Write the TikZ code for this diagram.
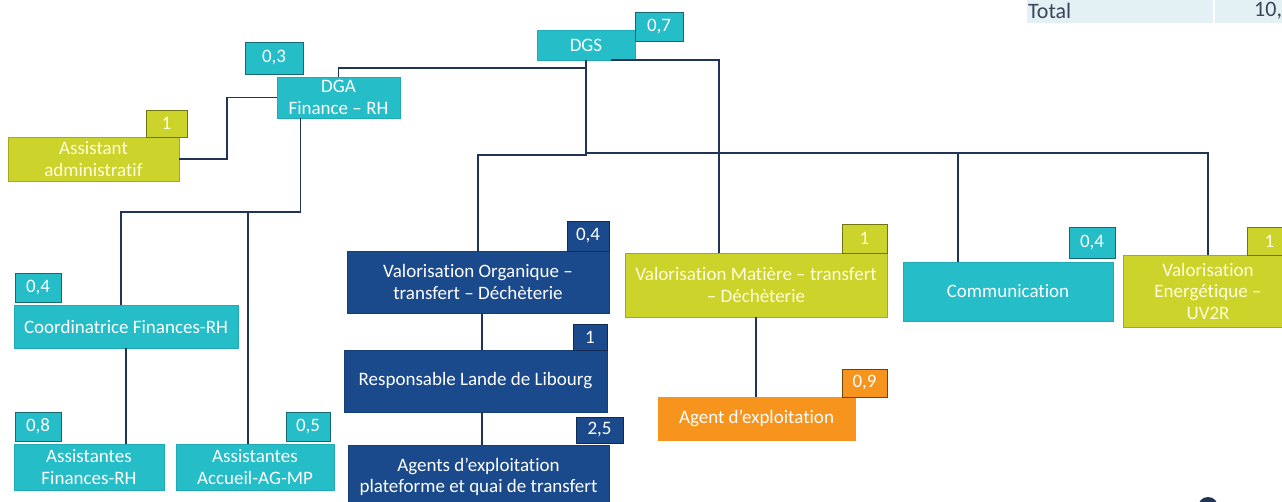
\documentclass[tikz,border=0pt]{standalone}
\usepackage{fontspec}
\setmainfont{Carlito}[Ligatures=NoCommon]
\usepackage{tikz}
\usetikzlibrary{positioning}

\definecolor{cyanfill}{RGB}{36,189,200}
\definecolor{limefill}{RGB}{204,211,42}
\definecolor{navyfill}{RGB}{26,73,140}
\definecolor{orangefill}{RGB}{247,148,30}
\definecolor{linkcol}{RGB}{34,52,85}
\definecolor{totalbg}{RGB}{228,241,244}
\definecolor{totaltext}{RGB}{55,70,90}

\begin{document}
\begin{tikzpicture}[x=1pt,y=-1pt,
  box/.style={rectangle,inner sep=0pt,outer sep=0pt,align=center,text=white,
    font=\fontsize{19}{21.5}\selectfont,line width=0.8pt},
  wh/.style 2 args={minimum width=#1pt,minimum height=#2pt},
  cyanbox/.style={box,fill=cyanfill,draw=cyanfill!90!black},
  limebox/.style={box,fill=limefill,draw=limefill!80!black,text=white!88!yellow},
  navybox/.style={box,fill=navyfill,draw=navyfill!85!black},
  orangebox/.style={box,fill=orangefill,draw=orangefill},
  cyantag/.style={cyanbox,draw=cyanfill!55!black,line width=1pt},
  limetag/.style={limebox,draw=limefill!55!black,line width=1pt},
  navytag/.style={navybox,draw=navyfill!60!black,line width=1pt},
  orangetag/.style={orangebox,draw=orangefill!45!black,line width=1pt},
  link/.style={draw=linkcol,line width=1.8pt}]

  \useasboundingbox (0,0) rectangle (1282,501);
  \clip (0,0) rectangle (1282,501);

  % total row
  \fill[totalbg] (1027,0) rectangle (1213,23);
  \fill[totalbg] (1215,0) rectangle (1282,23);
  \node[anchor=west,text=totaltext,font=\fontsize{22}{24}\selectfont,inner sep=0pt] (total) at (1028,11) {Total};
  \node[anchor=west,text=totaltext,font=\fontsize{22}{24}\selectfont,inner sep=0pt] (sum) at (1254,11) {10,};

  % direction
  \node[cyanbox,wh={98}{30}] (dgs) at (586,45) {DGS};
  \node[cyantag,wh={48}{29}] (dgsq) at (659,26.5) {0,7};
  \node[cyanbox,wh={123}{41}] (dga) at (338.5,97.5) {DGA\\Finance – RH};
  \node[cyantag,wh={58}{32}] (dgaq) at (274,58) {0,3};
  \node[limebox,wh={171}{44}] (adm) at (93.5,159) {Assistant\\administratif};
  \node[limetag,wh={41}{27}] (admq) at (166.5,123.5) {1};

  % finances - rh
  \node[cyanbox,wh={224}{43}] (coord) at (126,326.5) {Coordinatrice Finances-RH};
  \node[cyantag,wh={46}{29}] (coordq) at (38,287.5) {0,4};
  \node[cyanbox,wh={150}{46}] (asfin) at (89,467) {Assistantes\\Finances-RH};
  \node[cyantag,wh={46}{29}] (asfinq) at (38,426.5) {0,8};
  \node[cyanbox,wh={158}{46}] (asacc) at (255,467) {Assistantes\\Accueil-AG-MP};
  \node[cyantag,wh={44}{29}] (asaccq) at (308,426.5) {0,5};

  % valorisation organique
  \node[navybox,wh={262}{62}] (vorg) at (478,282) {Valorisation Organique –\\transfert – Déchèterie};
  \node[navytag,wh={42}{30}] (vorgq) at (588,236) {0,4};
  \node[navybox,wh={263}{62}] (resp) at (475.5,381) {Responsable Lande de Libourg};
  \node[navytag,wh={34}{26}] (respq) at (590,337) {1};
  \node[navybox,wh={261}{64}] (agpf) at (478.5,477) {Agents d’exploitation\\plateforme et quai de transfert};
  \node[navytag,wh={47}{26}] (agpfq) at (599.5,430) {2,5};

  % valorisation matiere
  \node[limebox,wh={262}{64}] (vmat) at (756,285) {Valorisation Matière – transfert\\– Déchèterie};
  \node[limetag,wh={45}{29}] (vmatq) at (864.5,238.5) {1};
  \node[orangebox,wh={197}{43}] (agex) at (756.5,418.5) {Agent d’exploitation};
  \node[orangetag,wh={45}{28}] (agexq) at (864.5,383) {0,9};

  % communication, energie
  \node[cyanbox,wh={210}{59}] (com) at (1008,291.5) {Communication};
  \node[cyantag,wh={46}{31}] (comq) at (1092,242.5) {0,4};
  \node[limebox,wh={170}{72}] (vene) at (1208,291) {Valorisation\\Energétique –\\UV2R};
  \node[limetag,wh={45}{28}] (veneq) at (1269.5,241) {1};

  % links
  \draw[link] (dga.north) -- ++(0,-9) -| (dgs.south);
  \draw[link] (dgs.south) -- ++(0,95) -| (vorg.north);
  \draw[link] ([xshift=25pt]dgs.south) -| ([xshift=-37pt]vmat.north);
  \path (dgs.south) ++(0,93) coordinate (bus);
  \draw[link] (bus) -| ([xshift=-50pt]com.north);
  \draw[link] (bus) -| (vene.north);
  \draw[link] (adm.east) -- ++(48,0) |- (dga.west);
  \draw[link] ([xshift=-38pt]dga.south) -- ++(0,94) coordinate (fin) -| ([xshift=-5pt]coord.north);
  \draw[link] (fin) -| ([xshift=-7pt]asacc.north);
  \draw[link] (coord.south) -- (coord.south |- asfin.north);
  \draw[link] ([xshift=4pt]vorg.south) -- ([xshift=4pt]vorg.south |- resp.north);
  \draw[link] ([xshift=6.5pt]resp.south) -- ([xshift=6.5pt]resp.south |- agpf.north);
  \draw[link] (vmat.south) -- (vmat.south |- agex.north);

  % logo edge
  \fill[linkcol] (1208,507) circle (10pt);
\end{tikzpicture}
\end{document}
